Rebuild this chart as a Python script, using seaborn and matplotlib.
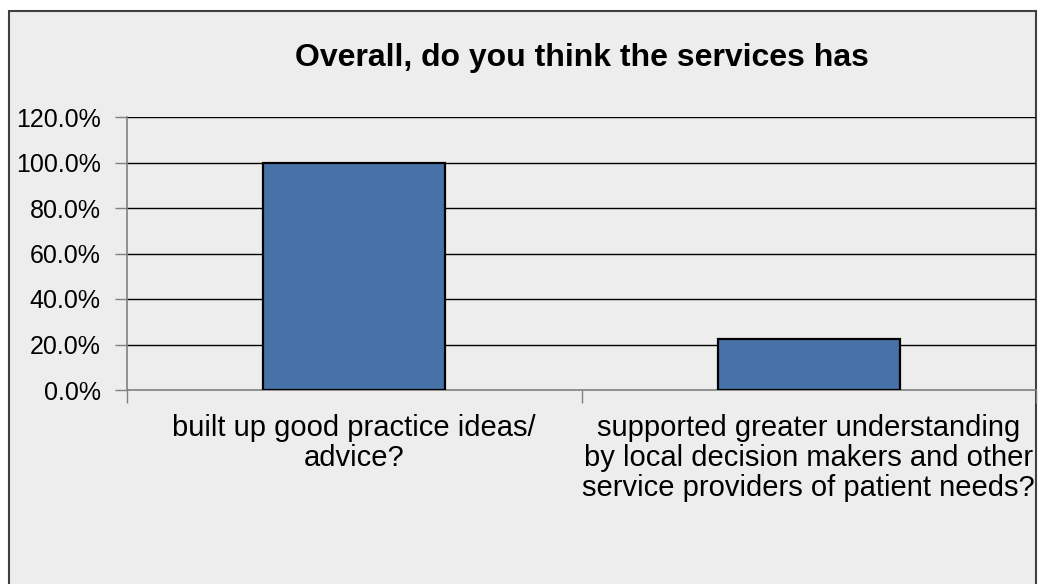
import matplotlib
matplotlib.use("Agg")
import matplotlib.pyplot as plt
from matplotlib.patches import Rectangle
from matplotlib.ticker import PercentFormatter, FixedLocator
import seaborn as sns
import pandas as pd

categories = [
    "built up good practice ideas/\nadvice?",
    "supported greater understanding\nby local decision makers and other\nservice providers of patient needs?",
]
values = [100.0, 22.2]
y_ticks = [0, 20, 40, 60, 80, 100, 120]
title = "Overall, do you think the services has"

sns.set_theme(style="white")
plt.rcParams["font.family"] = ["Liberation Sans", "DejaVu Sans"]

W, H = 1038, 584
fig = plt.figure(figsize=(W / 100, H / 100), dpi=100)
fig.patch.set_facecolor("white")

# chart frame: grey panel with dark border, open at the bottom edge
fig.patches.append(Rectangle((9 / W, -0.05), (1036 - 9) / W, 1 - 11 / H + 0.05,
                             transform=fig.transFigure, facecolor="#ededed",
                             edgecolor="#404040", linewidth=1.5, zorder=-10))

ax = fig.add_axes([127 / W, 1 - 390 / H, (1036 - 127) / W, (390 - 117) / H])
ax.set_facecolor("none")

df = pd.DataFrame({"category": categories, "value": values})
sns.barplot(data=df, x="category", y="value", ax=ax, color="#4672a8",
            saturation=1, width=0.4, edgecolor="black", linewidth=1.6, zorder=3)

ax.set_xlim(-0.5, 1.5)
ax.set_ylim(0, 120)
ax.set_yticks(y_ticks)
ax.yaxis.set_major_formatter(PercentFormatter(decimals=1))
for t in y_ticks[1:]:
    ax.axhline(t, color="black", linewidth=1, zorder=1)

for side in ["top", "right"]:
    ax.spines[side].set_visible(False)
for side in ["left", "bottom"]:
    ax.spines[side].set_color("#808080")
    ax.spines[side].set_linewidth(1.2)

ax.tick_params(axis="y", which="major", length=9, width=1, color="#808080",
               direction="out", pad=10, labelsize=18, labelcolor="black", left=True)
ax.xaxis.set_minor_locator(FixedLocator([-0.5, 0.5, 1.5]))
ax.tick_params(axis="x", which="minor", length=9, width=1, color="#808080",
               direction="out", bottom=True)
ax.tick_params(axis="x", which="major", length=0, pad=17, labelsize=21,
               labelcolor="black")
for lbl in ax.get_xticklabels():
    lbl.set_linespacing(1.1)

ax.set_xlabel("")
ax.set_ylabel("")

fig.text((127 + 1036) / 2 / W, 1 - 58 / H, title, ha="center", va="center",
         fontsize=23, fontweight="bold", color="black")

fig.savefig("out.png", dpi=100, facecolor=fig.get_facecolor())
